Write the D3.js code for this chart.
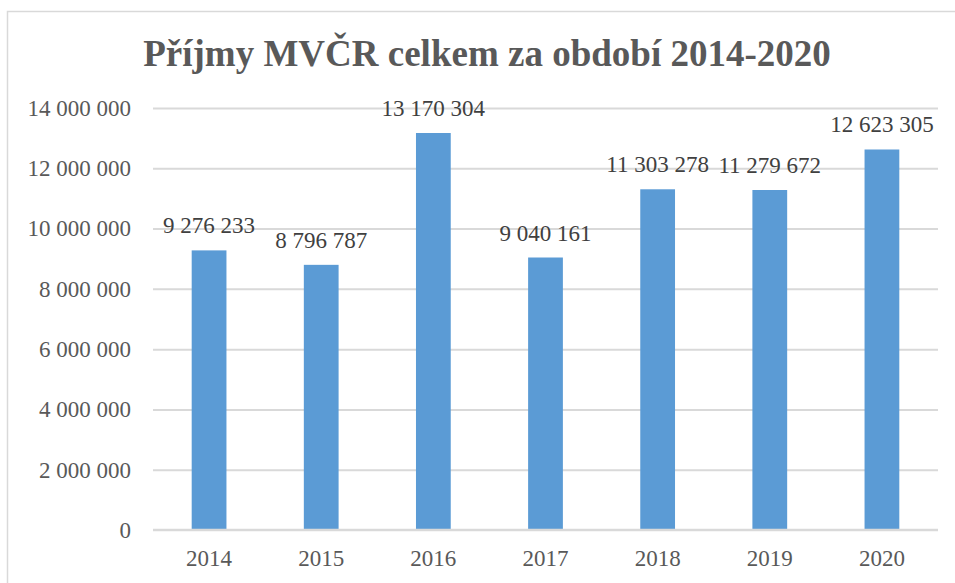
<!DOCTYPE html>
<html>
<head>
<meta charset="utf-8">
<script src="https://cdn.jsdelivr.net/npm/d3@7"></script>
</head>
<body style="margin:0">
<svg id="chart" width="955" height="583"></svg>
<script>
// == data ==
var years = ["2014", "2015", "2016", "2017", "2018", "2019", "2020"];
var incomes = [9276233, 8796787, 13170304, 9040161, 11303278, 11279672, 12623305];
var yTicks = [0, 2000000, 4000000, 6000000, 8000000, 10000000, 12000000, 14000000];
var titleText = "Příjmy MVČR celkem za období 2014-2020";

var FONT = "'Liberation Serif', 'Times New Roman', serif";
var W = 955, H = 583;
var margin = { top: 108, right: 17, bottom: 53, left: 153 },
    width = W - margin.left - margin.right,
    height = H - margin.top - margin.bottom;

var fmt = function (v) {
  return d3.format(",")(v).replace(/,/g, " ");
};

var root = d3.select("#chart");

// == outer chart border (cropped at right and bottom) ==
root.append("rect")
  .attr("x", 7.5).attr("y", 11.5)
  .attr("width", 1000).attr("height", 1000)
  .attr("fill", "none")
  .attr("stroke", "#d9d9d9")
  .attr("stroke-width", 1.5);

// == title ==
root.append("text")
  .attr("x", 487)
  .attr("y", 66)
  .attr("text-anchor", "middle")
  .style("font-family", FONT)
  .attr("font-size", 37)
  .attr("font-weight", "bold")
  .attr("fill", "#595959")
  .text(titleText);

var svg = root.append("g")
  .attr("transform", "translate(" + margin.left + "," + margin.top + ")");

var x = d3.scaleBand()
  .domain(years)
  .range([0, width])
  .paddingInner(0.69)
  .paddingOuter(0.345);

var y = d3.scaleLinear()
  .domain([0, 14000000])
  .range([height, 0]);

// == gridlines ==
var grid = d3.axisLeft(y)
  .tickValues(yTicks.slice(1))
  .tickSize(-width)
  .tickFormat("");

svg.append("g")
  .call(grid)
  .call(function (g) {
    g.select(".domain").remove();
    g.selectAll("line").attr("stroke", "#d9d9d9").attr("stroke-width", 2);
  });

// == y axis labels ==
var yAxis = d3.axisLeft(y)
  .tickValues(yTicks)
  .tickSize(0)
  .tickPadding(22)
  .tickFormat(fmt);

svg.append("g")
  .call(yAxis)
  .call(function (g) {
    g.select(".domain").remove();
    g.selectAll("text")
      .style("font-family", FONT)
      .attr("font-size", 23)
      .attr("fill", "#595959")
      .attr("dy", "0.32em");
  });

// == bars ==
svg.selectAll(".bar")
  .data(years)
  .enter()
  .append("rect")
  .attr("class", "bar")
  .attr("x", function (d) { return x(d); })
  .attr("y", function (d, i) { return y(incomes[i]); })
  .attr("width", x.bandwidth())
  .attr("height", function (d, i) { return height - y(incomes[i]); })
  .attr("fill", "#5b9bd5");

// == data labels ==
svg.selectAll(".lbl")
  .data(years)
  .enter()
  .append("text")
  .attr("class", "lbl")
  .attr("x", function (d) { return x(d) + x.bandwidth() / 2; })
  .attr("y", function (d, i) { return y(incomes[i]) - 17; })
  .attr("text-anchor", "middle")
  .style("font-family", FONT)
  .attr("font-size", 23)
  .attr("fill", "#404040")
  .text(function (d, i) { return fmt(incomes[i]); });

// == x axis baseline & labels ==
svg.append("line")
  .attr("x1", 0).attr("x2", width)
  .attr("y1", height).attr("y2", height)
  .attr("stroke", "#d9d9d9")
  .attr("stroke-width", 2.5);

var xAxis = d3.axisBottom(x)
  .tickSize(0)
  .tickPadding(20);

svg.append("g")
  .attr("transform", "translate(0," + height + ")")
  .call(xAxis)
  .call(function (g) {
    g.select(".domain").remove();
    g.selectAll("text")
      .style("font-family", FONT)
      .attr("font-size", 23)
      .attr("fill", "#595959");
  });
</script>
</body>
</html>
